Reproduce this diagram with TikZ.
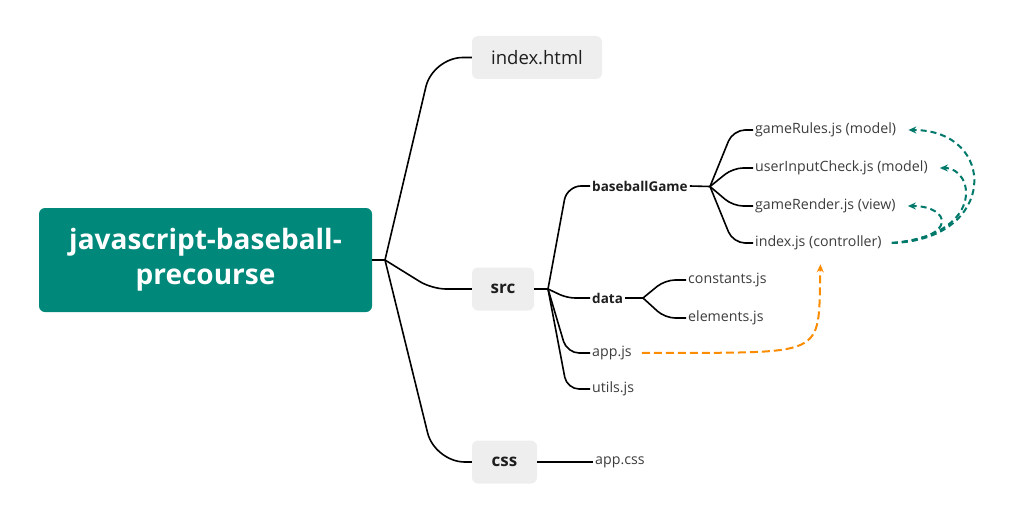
\documentclass[tikz,border=0pt]{standalone}
\usepackage{fontspec}
\setmainfont{Open Sans}
\usetikzlibrary{arrows.meta,positioning}
\definecolor{rootteal}{RGB}{0,137,123}
\definecolor{boxgray}{RGB}{238,238,238}
\definecolor{arrteal}{RGB}{0,121,107}
\definecolor{arrorange}{RGB}{251,140,0}
\definecolor{leafgray}{RGB}{60,60,60}
\definecolor{darktxt}{RGB}{30,30,30}
\tikzset{
  rootbox/.style={fill=rootteal, rounded corners=6pt, minimum width=333pt, minimum height=104pt, text=white, align=center, font=\fontsize{28}{35}\selectfont\bfseries},
  graybox/.style={fill=boxgray, rounded corners=6pt, minimum height=43pt, text=darktxt, font=\fontsize{18.5}{22}\selectfont},
  midlabel/.style={anchor=west, inner sep=2pt, text=darktxt, font=\fontsize{13.5}{16}\selectfont\bfseries},
  leaf/.style={anchor=west, inner sep=2pt, text=leafgray, font=\fontsize{14.2}{17}\selectfont},
  branch/.style={line width=1.6pt, black},
  tealarrow/.style={line width=2pt, arrteal, dash pattern=on 6pt off 4pt, -{Stealth[length=8pt,width=7pt]}},
  orangearrow/.style={line width=2pt, arrorange, dash pattern=on 8pt off 4pt, -{Stealth[length=8pt,width=7pt]}}
}
\begin{document}
\begin{tikzpicture}[x=1pt,y=-1pt]
\useasboundingbox (0,0) rectangle (1012,527);
% nodes
\node[rootbox] (root) at (205.5,260) {javascript-baseball-\\precourse};
\node[graybox, minimum width=130pt] (html) at (537,57.5) {index.html};
\node[graybox, minimum width=62pt, font=\fontsize{17}{20}\selectfont\bfseries] (src) at (503,289) {src};
\node[graybox, minimum width=65pt, font=\fontsize{17}{20}\selectfont\bfseries] (css) at (504.5,462) {css};

\node[midlabel] (bg) at (590,186) {baseballGame};
\node[midlabel] (data) at (590,298) {data};
\node[leaf] (appjs) at (590,353) {app.js};
\node[leaf] (utils) at (590,389) {utils.js};

\node[leaf] (rules) at (753,130) {gameRules.js (model)};
\node[leaf] (input) at (753,168) {userInputCheck.js (model)};
\node[leaf] (render) at (753,206) {gameRender.js (view)};
\node[leaf] (ctrl) at (753,243) {index.js (controller)};

\node[leaf] (const) at (686,280) {constants.js};
\node[leaf] (elem) at (686,318) {elements.js};

\node[leaf] (appcss) at (593,462) {app.css};

% fork points
\coordinate (f0) at (385,260);
\coordinate (f1) at (548,289);
\coordinate (f2) at (710,186.5);
\coordinate (f3) at (643,298);

% root branches
\draw[branch] (root.east) -- (f0);
\draw[branch, rounded corners=30pt] (f0) -- ([xshift=-39pt]html.west) -- (html.west);
\draw[branch, rounded corners=14pt] (f0) -- ([xshift=-40pt]src.west) -- (src.west);
\draw[branch, rounded corners=30pt] (f0) -- ([xshift=-37pt]css.west) -- (css.west);

% src branches
\draw[branch] (src.east) -- (f1);
\draw[branch, rounded corners=14pt] (f1) -- ([xshift=-23pt]bg.west) -- (bg.west);
\draw[branch, rounded corners=8pt] (f1) -- ([xshift=-23pt]data.west) -- (data.west);
\draw[branch, rounded corners=12pt] (f1) -- ([xshift=-23pt]appjs.west) -- (appjs.west);
\draw[branch, rounded corners=12pt] (f1) -- ([xshift=-23pt]utils.west) -- (utils.west);

% baseballGame branches
\draw[branch] (bg.east) -- (f2);
\draw[branch, rounded corners=12pt] (f2) -- ([xshift=-20pt]rules.west) -- (rules.west);
\draw[branch, rounded corners=10pt] (f2) -- ([xshift=-20pt]input.west) -- (input.west);
\draw[branch, rounded corners=10pt] (f2) -- ([xshift=-20pt]render.west) -- (render.west);
\draw[branch, rounded corners=12pt] (f2) -- ([xshift=-20pt]ctrl.west) -- (ctrl.west);

% data branches
\draw[branch, rounded corners=0pt] (data.east) -- (f3);
\draw[branch, rounded corners=10pt] (f3) -- ([xshift=-21pt]const.west) -- (const.west);
\draw[branch, rounded corners=10pt] (f3) -- ([xshift=-21pt]elem.west) -- (elem.west);

% css branch
\draw[branch] (css.east) -- (appcss.west);

% dashed relation arrows
\coordinate (cs) at ([xshift=8pt]ctrl.east);
\draw[tealarrow] (cs) .. controls (998,240) and (998,130) .. ([xshift=10pt]rules.east);
\draw[tealarrow] (cs) .. controls (985,235) and (975,168) .. ([xshift=10pt]input.east);
\draw[tealarrow] (cs) .. controls (960,238) and (950,206) .. ([xshift=10pt]render.east);

\coordinate (as) at ([xshift=8pt]appjs.east);
\draw[orangearrow] (as) .. controls (830,352) and (818,360) .. ([xshift=2pt,yshift=-12pt]ctrl.south);
\end{tikzpicture}
\end{document}
